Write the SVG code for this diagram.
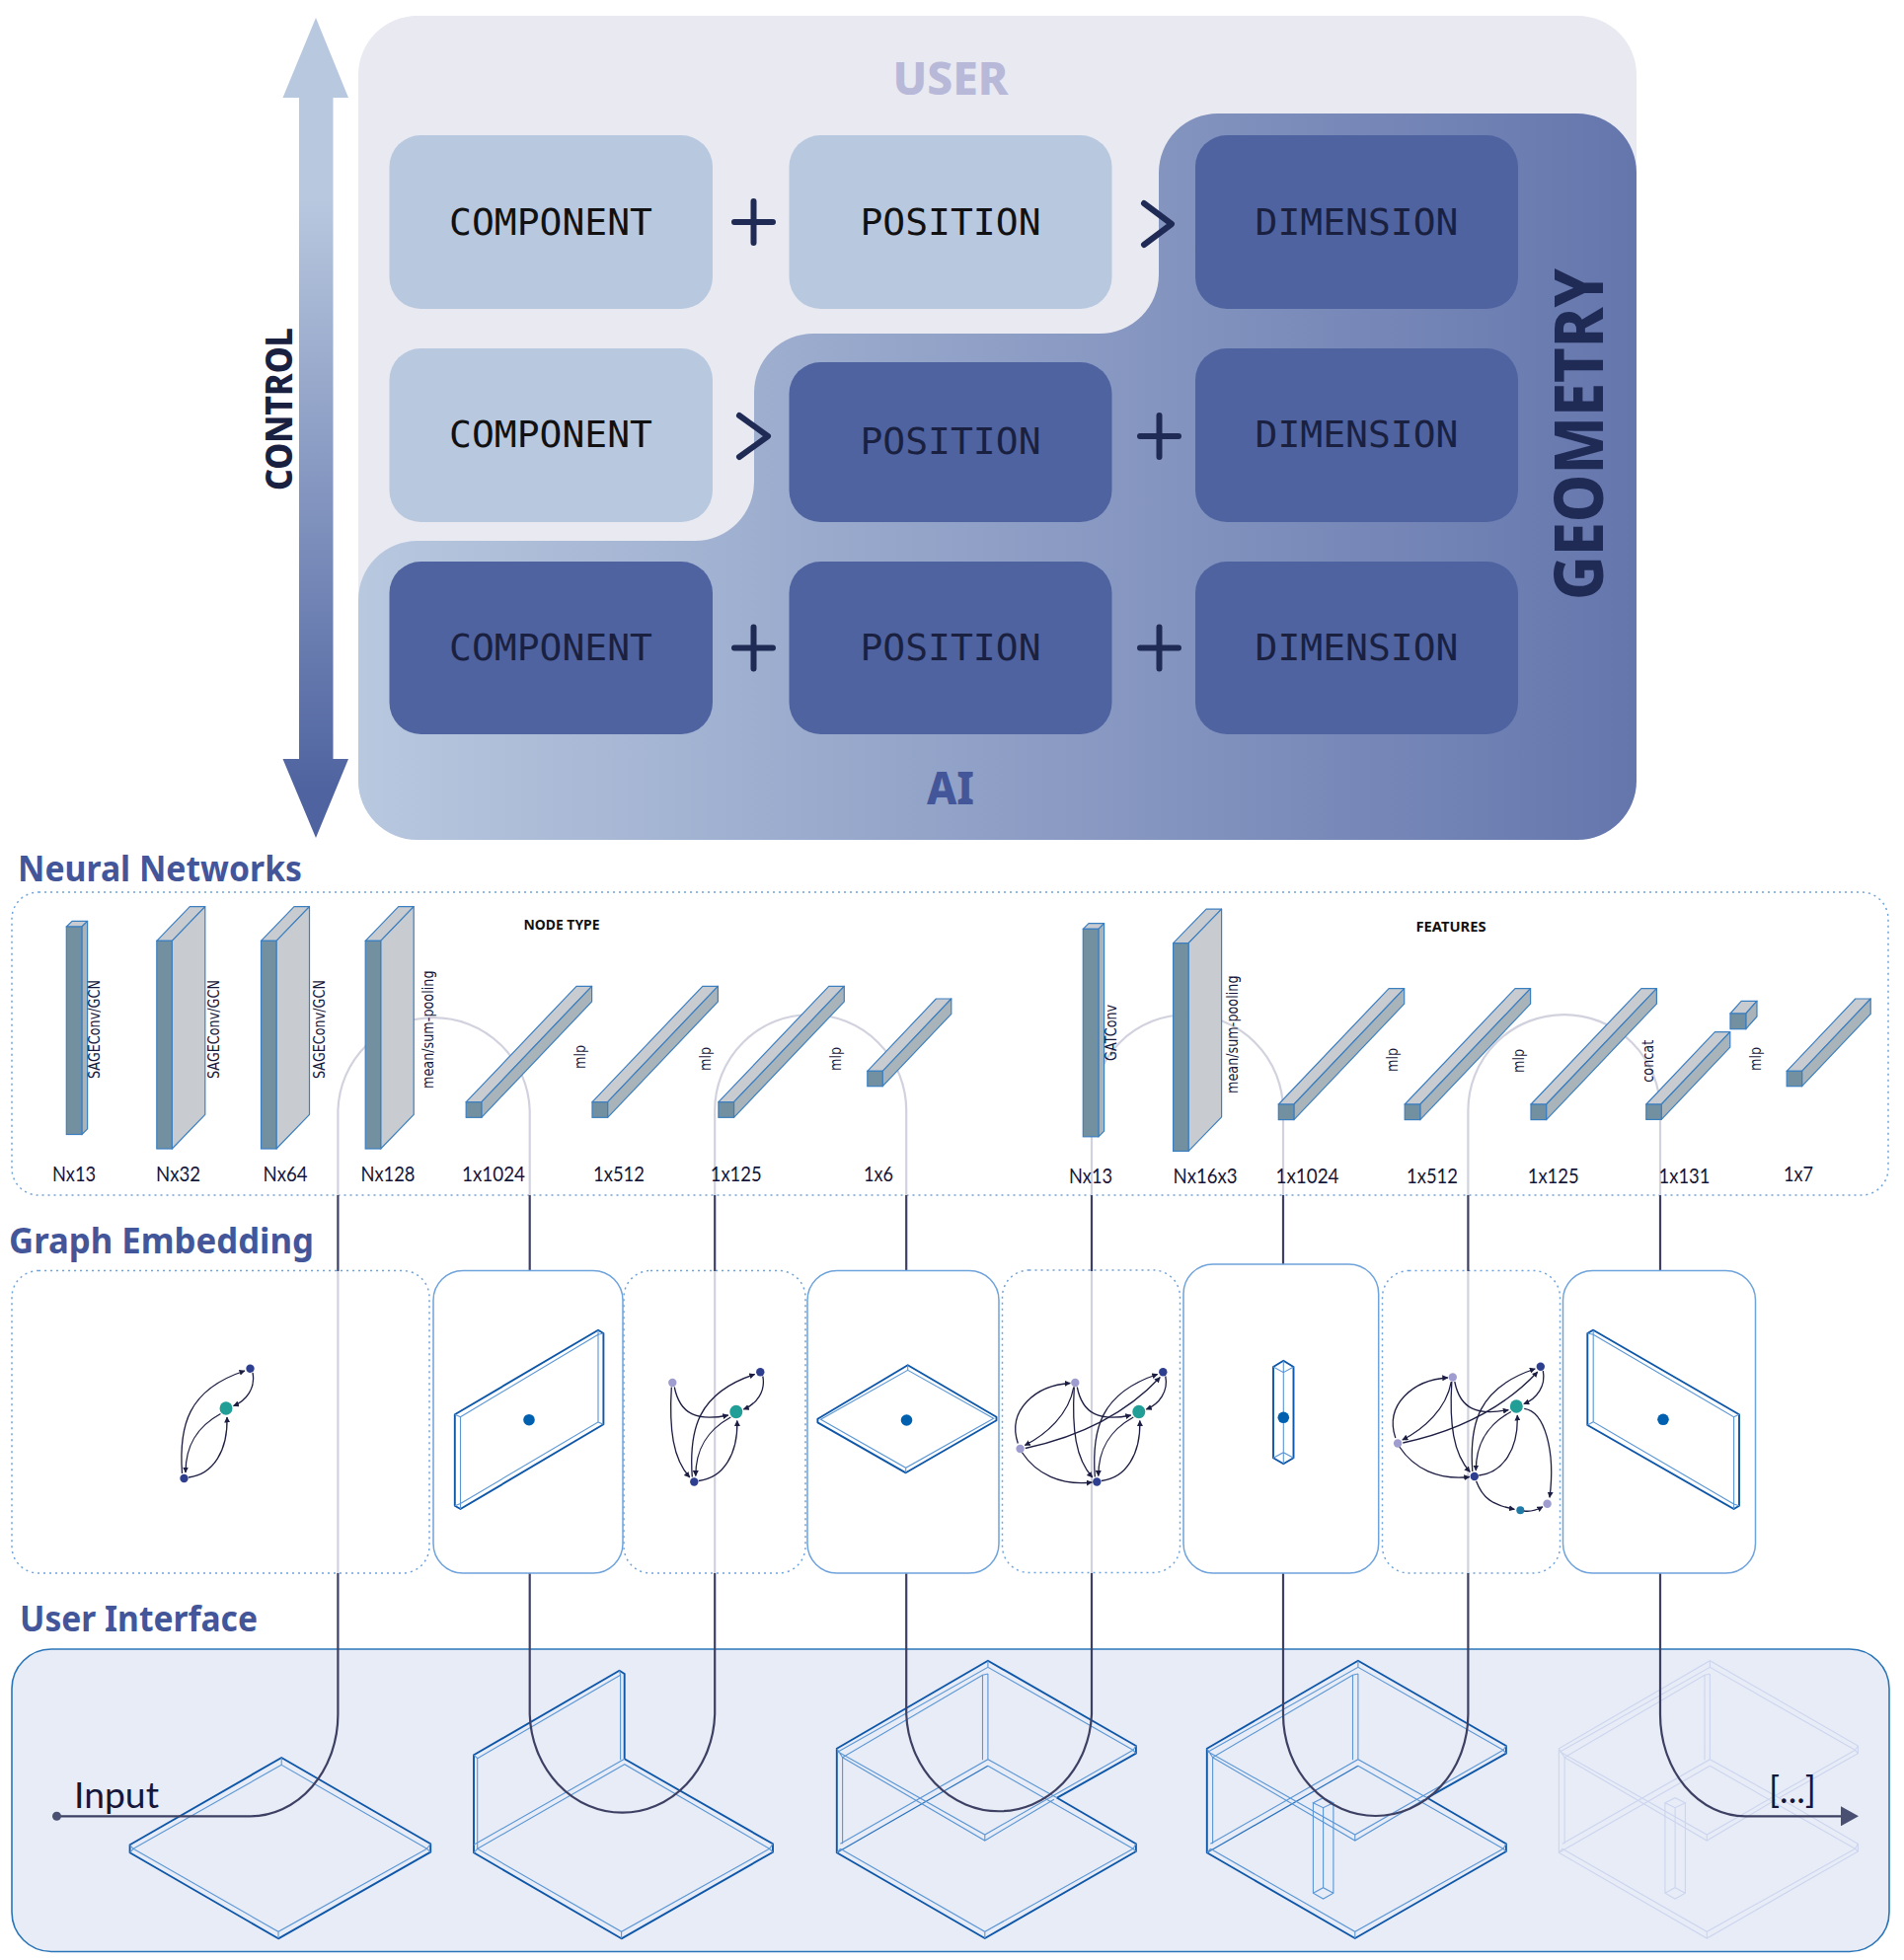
<svg xmlns="http://www.w3.org/2000/svg" xmlns:xlink="http://www.w3.org/1999/xlink" width="1929" height="1986" viewBox="0 0 1929 1986">
<style>
.lt{fill:#b8c8df}.dk{fill:#4f63a0}
.mono{font-family:"DejaVu Sans Mono","Liberation Mono",monospace;font-size:38px;text-anchor:middle}
.onl{fill:#111}.ond{fill:#1a2140}
.sym{fill:none;stroke:#1f2a55;stroke-width:6;stroke-linecap:round;stroke-linejoin:round}
.big{font-family:"Noto Sans","Lato",sans-serif;font-weight:800;text-anchor:middle}
.head{font-family:"Noto Sans","Lato",sans-serif;font-weight:700;font-size:36px;fill:#43569a}
.dim{font-family:"Lato","Noto Sans",sans-serif;font-size:22px;fill:#15173a;text-anchor:middle}
.rot{font-family:"DejaVu Sans",sans-serif;font-size:12.8px;fill:#15173a}
.ttl{font-family:"Noto Sans","Lato",sans-serif;font-weight:700;font-size:14px;fill:#111;text-anchor:middle}
.dot{fill:#fff;stroke:#6fa3dc;stroke-width:1.5;stroke-dasharray:2 4}
.dotn{fill:none;stroke:#6fa3dc;stroke-width:1.5;stroke-dasharray:2 4}
.sol{fill:#fff;stroke:#6fa3dc;stroke-width:1.5}
.f{fill:#72909f;stroke:#3c7fc0;stroke-width:1.2}
.t{fill:#c8ccd0;stroke:#3c7fc0;stroke-width:1.2;stroke-linejoin:round}
.s{fill:#a8b4ba;stroke:#3c7fc0;stroke-width:1.2;stroke-linejoin:round}
.cd{fill:none;stroke:#3d4062;stroke-width:2.2}
.cl{fill:none;stroke:#d2d2df;stroke-width:2.2}
.thick{fill:none;stroke:#0d56a8;stroke-width:1.9;stroke-linejoin:round}
.mid{fill:none;stroke:#2a72bd;stroke-width:1.3}
.thin{fill:none;stroke:#5a96d4;stroke-width:1.1}
.ghost{fill:none;stroke:#ccd5ee;stroke-width:1.1}
.e{fill:none;stroke:#1c1d42;stroke-width:1.3;marker-end:url(#ah)}
.na{fill:#2f3f8f}.nt{fill:#219e96}.np{fill:#9f9dcf}.nc{fill:#1f7ba5}.bd{fill:#0060b0}
.txt{font-family:"Lato","Noto Sans",sans-serif;font-size:36px;fill:#15173a}
</style>
<defs>
<linearGradient id="ctl" gradientUnits="userSpaceOnUse" x1="0" y1="200" x2="0" y2="800"><stop offset="0" stop-color="#b8c8df"/><stop offset="1" stop-color="#4f63a0"/></linearGradient>
<linearGradient id="aig" gradientUnits="userSpaceOnUse" x1="363" y1="0" x2="1658" y2="0"><stop offset="0" stop-color="#b8c8df"/><stop offset="1" stop-color="#6576ad"/></linearGradient>
<marker id="ah" viewBox="0 0 6 6" refX="5.5" refY="3" markerWidth="6" markerHeight="6" markerUnits="userSpaceOnUse" orient="auto"><path d="M0 0L6 3L0 6Z" fill="#1c1d42"/></marker>
<marker id="endarrow" viewBox="0 0 18 20" refX="0" refY="10" markerWidth="18" markerHeight="20" markerUnits="userSpaceOnUse" orient="auto"><path d="M0 0L18 10L0 20Z" fill="#4a5072"/></marker>
<g id="bar"><polygon class="t" points="0,0 15.6,0 127.4,-117.4 111.8,-117.4"/><polygon class="s" points="15.6,0 127.4,-117.4 127.4,-101.8 15.6,15.6"/><rect class="f" width="15.6" height="15.6"/></g>
<g id="bar2"><polygon class="t" points="0,0 15.4,0 85,-73.3 69.6,-73.3"/><polygon class="s" points="15.4,0 85,-73.3 85,-57.9 15.4,15.4"/><rect class="f" width="15.4" height="15.4"/></g>
<g id="slab"><polygon class="t" points="0,0 15.5,0 49,-34.6 33.5,-34.6"/><polygon class="t" points="15.5,0 49,-34.6 49,176.1 15.5,210.7"/><rect class="f" width="15.5" height="210.7"/></g>
<g id="thinb"><polygon class="t" points="0,0 15.6,0 21.3,-5.7 5.7,-5.7"/><polygon class="s" points="15.6,0 21.3,-5.7 21.3,204.8 15.6,210.5"/><rect class="f" width="15.6" height="210.5"/></g>
<g id="tri">
<path class="e" d="M184.5,1493C181,1445 190,1408 248,1389"/>
<path class="e" d="M256,1391C259,1406 250,1419 236.5,1424.5"/>
<path class="e" d="M223.5,1432.5C199,1446 188,1465 188,1492"/>
<path class="e" d="M191,1497C216,1494 231,1470 230,1436"/>
<ellipse class="na" cx="253.5" cy="1386.7" rx="4.2" ry="4.2"/><ellipse class="nt" cx="229" cy="1427" rx="6.5" ry="6.8"/><ellipse class="na" cx="186.5" cy="1498" rx="4.2" ry="4.2"/>
</g>
<g id="pe">
<path class="e" d="M166.5,1402C172,1430 190,1437 221,1430.5"/>
<path class="e" d="M163.5,1402C161,1445 165,1475 182,1493.5"/>
<ellipse class="np" cx="164.5" cy="1397.5" rx="4.2" ry="4.2"/>
</g>
<g id="qe">
<path class="e" d="M106.5,1459C95,1425 125,1400 159.5,1398"/>
<path class="e" d="M163,1402C158,1430 135,1450 113.5,1461"/>
<path class="e" d="M114,1464C170,1452 215,1430 250.5,1392"/>
<path class="e" d="M110.5,1468C125,1490 150,1502 181.5,1498.5"/>
<ellipse class="np" cx="108.8" cy="1464.5" rx="4.2" ry="4.2"/>
</g>
<path id="cubeO" d="M847.8,1877.3V1771.7L1000.9,1682.7L1150.9,1769V1776.7L1071,1821.7L1150.9,1868.3V1876L997.8,1964Z"/>
<path id="cubeM" d="M847.8,1877.3L1000.9,1789.3"/>
<path id="cubeI" d="M849,1775L1000.9,1689.3L1148,1773.3L997.8,1859ZM853.6,1780.7L997.8,1865L1067.9,1823.3M853.6,1780.7L995.5,1697.3L1000.9,1696M995.5,1697.3V1783.3M1000.9,1696V1782.7M853.6,1780.7V1868.3M997.8,1859V1865M851.3,1868.3L1000.9,1782.7L1071,1821.7M1000.9,1789.3L1148,1873.3L997.8,1957.3L851.3,1873.3M997.8,1957.3V1964M1148,1873.3L1150.9,1868.3M1148,1873.3L1150.9,1876M1148,1773.3L1150.9,1769M1148,1773.3L1150.9,1776.7M847.8,1771.7L853.6,1780.7M847.8,1877.3L851.3,1873.3M1000.9,1682.7V1689.3"/>
<path id="column" d="M1330.4,1826.7L1340.6,1821.7L1350.9,1826.7L1340.6,1831.7ZM1330.4,1826.7V1918.3L1340.6,1924L1350.9,1918.3V1826.7M1340.6,1831.7V1912.7M1330.4,1918.3L1340.6,1912.7L1350.9,1918.3"/>
</defs>

<g id="control-arrow">
<path d="M320,18L353,99H337.5V769H353L320,849L286.5,769H303V99H286.5Z" fill="url(#ctl)"/>
<text class="big" transform="translate(295.5,414.5) rotate(-90)" font-size="37" fill="#1a2140" textLength="165" lengthAdjust="spacingAndGlyphs">CONTROL</text>
</g>
<g id="matrix">
<rect x="363" y="16" width="1295" height="835" rx="60" fill="#e8e9f1"/>
<path d="M363,791V608A60,60 0 0 1 423,548H704A60,60 0 0 0 764,488V398A60,60 0 0 1 824,338H1114A60,60 0 0 0 1174,278V175A60,60 0 0 1 1234,115H1598A60,60 0 0 1 1658,175V791A60,60 0 0 1 1598,851H423A60,60 0 0 1 363,791Z" fill="url(#aig)"/>
<text class="big" x="963" y="96" font-size="46" fill="#b8b8d8" textLength="117" lengthAdjust="spacingAndGlyphs">USER</text>
<text class="big" x="963" y="815" font-size="46" fill="#43569a" textLength="48" lengthAdjust="spacingAndGlyphs">AI</text>
<text class="big" transform="translate(1624,440) rotate(-90)" font-size="68" fill="#1f2a55" textLength="336" lengthAdjust="spacingAndGlyphs">GEOMETRY</text>
</g>
<g id="r1c1"><rect class="lt" x="394.5" y="137" width="327.5" height="176" rx="32"/><text class="mono onl" x="558" y="237.5">COMPONENT</text></g>
<g id="r1c2"><rect class="lt" x="799.5" y="137" width="327" height="176" rx="32"/><text class="mono onl" x="963" y="237.5">POSITION</text></g>
<g id="r1c3"><rect class="dk" x="1211" y="137" width="327" height="176" rx="32"/><text class="mono ond" x="1374.5" y="237.5">DIMENSION</text></g>
<g id="r2c1"><rect class="lt" x="394.5" y="353" width="327.5" height="176" rx="32"/><text class="mono onl" x="558" y="453">COMPONENT</text></g>
<g id="r2c2"><rect class="dk" x="799.5" y="367" width="327" height="162" rx="32"/><text class="mono ond" x="963" y="460">POSITION</text></g>
<g id="r2c3"><rect class="dk" x="1211" y="353" width="327" height="176" rx="32"/><text class="mono ond" x="1374.5" y="453">DIMENSION</text></g>
<g id="r3c1"><rect class="dk" x="394.5" y="569" width="327.5" height="175" rx="32"/><text class="mono ond" x="558" y="669">COMPONENT</text></g>
<g id="r3c2"><rect class="dk" x="799.5" y="569" width="327" height="175" rx="32"/><text class="mono ond" x="963" y="669">POSITION</text></g>
<g id="r3c3"><rect class="dk" x="1211" y="569" width="327" height="175" rx="32"/><text class="mono ond" x="1374.5" y="669">DIMENSION</text></g>
<g id="operators">
<path class="sym" d="M744,225H783M763.5,204V246"/>
<path class="sym" d="M1159,206L1187,227L1159,248"/>
<path class="sym" d="M749,421L778,442L749,463"/>
<path class="sym" d="M1155,442H1194M1174.5,421V463"/>
<path class="sym" d="M744,656.5H783M763.5,635.5V677.5"/>
<path class="sym" d="M1155,656.5H1194M1174.5,635.5V677.5"/>
</g>

<text class="head" x="18" y="893" textLength="288" lengthAdjust="spacingAndGlyphs">Neural Networks</text>
<text class="head" x="9" y="1270" textLength="309" lengthAdjust="spacingAndGlyphs">Graph Embedding</text>
<text class="head" x="20" y="1653" textLength="241" lengthAdjust="spacingAndGlyphs">User Interface</text>

<g id="ui-panel"><rect x="12" y="1671" width="1902" height="306.5" rx="40" fill="#e8ecf7" stroke="#2a75b8" stroke-width="1.6"/></g>
<g id="nn-panel"><rect class="dotn" x="12" y="904" width="1901" height="307" rx="27"/></g>
<g id="ge1"><rect class="dot" x="12" y="1287.5" width="423" height="306.5" rx="27"/></g>
<g id="ge3"><rect class="dot" x="632" y="1287.5" width="184" height="306.5" rx="27"/></g>
<g id="ge5"><rect class="dot" x="1015.5" y="1287" width="180" height="306.5" rx="27"/></g>
<g id="ge7"><rect class="dot" x="1400.5" y="1287.5" width="180" height="306.5" rx="27"/></g>

<g id="ui-shapes">
<g id="ui1"><path class="thick" d="M285.2,1781L131.6,1869.3V1877.3L282,1964.3L436.2,1876.7V1868.3Z"/><path class="thin" d="M285.2,1788.3L135,1873.3L282,1957.3L432.6,1873.3ZM285.2,1781V1788.3M131.6,1869.3L135,1873.3M131.6,1877.3L135,1873.3M282,1957.3V1964.3M432.6,1873.3L436.2,1868.3M432.6,1873.3L436.2,1876.7"/></g>
<g id="ui2"><path class="thick" d="M632.7,1782.3L783,1868.3V1876.7L629.6,1964.3L480,1877.3V1778.3L627.5,1692.7L632.7,1696V1782.3"/><path class="thin" d="M632.7,1787.7L483.7,1873.3L629.6,1957.3L779.6,1873.3ZM632.7,1782.3L480,1869.3M483.7,1781.7L628.6,1697.3V1783.3M483.7,1781.7V1873.3M480,1778.3L483.7,1781.7M627.5,1692.7L628.6,1697.3M629.6,1957.3V1964.3M779.6,1873.3L783,1868.3M779.6,1873.3L783,1876.7M480,1877.3L483.7,1873.3"/></g>
<g id="ui3"><use xlink:href="#cubeO" href="#cubeO" class="thick"/><use xlink:href="#cubeM" href="#cubeM" class="mid"/><use xlink:href="#cubeI" href="#cubeI" class="thin"/></g>
<g id="ui4" transform="translate(375,0)"><use xlink:href="#cubeO" href="#cubeO" class="thick"/><use xlink:href="#cubeM" href="#cubeM" class="mid"/><use xlink:href="#cubeI" href="#cubeI" class="thin"/></g>
<use xlink:href="#column" href="#column" class="thin"/>
<g id="ui5" transform="translate(731.5,0)"><use xlink:href="#cubeO" href="#cubeO" class="ghost"/><use xlink:href="#cubeM" href="#cubeM" class="ghost"/><use xlink:href="#cubeI" href="#cubeI" class="ghost"/></g>
<use xlink:href="#column" href="#column" class="ghost" transform="translate(356.5,0)"/>
</g>

<g id="connectors">
<path class="cl" d="M342.4,1594V1288M342.4,1211V1125A97.2,97 0 0 1 536.7,1125V1211M724.2,1594V1288M724.2,1211V1125A97,97 0 0 1 918.2,1125V1211M1106,1594V1288M1106,1211V1125A97,97 0 0 1 1300,1125V1211M1487.4,1594V1288M1487.4,1211V1125A97.3,97 0 0 1 1682,1125V1211"/>
<path class="cd" d="M57,1840.3H253A89,103 0 0 0 342.4,1737V1594M342.4,1288V1211M536.7,1211V1288M536.7,1594V1737A93.8,103 0 0 0 724.2,1737V1594M724.2,1288V1211M918.2,1211V1288M918.2,1594V1737A94,103 0 0 0 1106,1737V1594M1106,1288V1211M1300,1211V1282M1300,1594V1737A93.7,103 0 0 0 1487.4,1737V1594M1487.4,1288V1211M1682,1211V1288M1682,1594V1737A86,103 0 0 0 1768,1840.3H1865" marker-end="url(#endarrow)"/>
<circle cx="57.5" cy="1840.3" r="4.5" fill="#4a5072"/>
</g>

<g id="ge2"><rect class="sol" x="439" y="1287.5" width="192" height="306.5" rx="30"/>
<path class="thick" d="M460.8,1433.3L606,1347.7L611.4,1351V1443.3L466.5,1529L460.8,1525.7Z"/>
<path class="thin" d="M466.5,1435.7L606,1352.3V1441L466.5,1523.5ZM460.8,1433.3L466.5,1435.7M466.5,1435.7V1529M460.8,1525.7L466.5,1523.5M606,1347.7V1352.3M606,1352.3L611.4,1351M606,1441L611.4,1443.3"/>
<circle class="bd" cx="536" cy="1438.7" r="5.8"/></g>
<g id="ge4"><rect class="sol" x="818" y="1287.5" width="194" height="306.5" rx="30"/>
<path class="thick" d="M828.4,1437.7L919.7,1383.3L1009.5,1435.7V1439.3L917.7,1492.3L828.4,1441.3Z"/>
<path class="thin" d="M831.5,1438.3L919.7,1388.3L1006.7,1437.3L917.7,1487.3ZM919.7,1383.3V1388.3M917.7,1487.3V1492.3"/>
<circle class="bd" cx="918.5" cy="1439" r="5.8"/></g>
<g id="ge6"><rect class="sol" x="1199" y="1281" width="197.7" height="313" rx="30"/>
<path class="thick" d="M1300.3,1378.7L1310.5,1385V1477.3L1300.3,1483.3L1290,1477.3V1385Z"/>
<path class="thin" d="M1290,1385L1300.3,1390.7L1310.5,1385M1300.3,1390.7V1471.7M1290,1477.3L1300.3,1471.7L1310.5,1477.3M1300.3,1378.7V1390.7M1300.3,1471.7V1483.3"/>
<circle class="bd" cx="1300.3" cy="1436.3" r="5.8"/></g>
<g id="ge8"><rect class="sol" x="1583.5" y="1287.5" width="195" height="306.5" rx="30"/>
<path class="thick" d="M1608.3,1351L1614.2,1347.7L1762,1433.3V1525.7L1756.6,1529L1608.3,1444Z"/>
<path class="thin" d="M1614.2,1352.3L1756.6,1435.7V1524L1614.2,1440.7ZM1608.3,1351L1614.2,1352.3M1614.2,1347.7V1440.7M1608.3,1444L1614.2,1440.7M1756.6,1435.7L1762,1433.3M1756.6,1435.7V1529M1756.6,1524L1762,1525.7"/>
<circle class="bd" cx="1685" cy="1438.3" r="5.8"/></g>

<g id="graph1"><use xlink:href="#tri" href="#tri"/></g>
<g id="graph2" transform="translate(516.8,3.5)"><use xlink:href="#pe" href="#pe"/><use xlink:href="#tri" href="#tri"/></g>
<g id="graph3" transform="translate(924.8,3.5)"><use xlink:href="#pe" href="#pe"/><use xlink:href="#qe" href="#qe"/><use xlink:href="#tri" href="#tri"/></g>
<g id="graph4" transform="translate(1307.3,-2)"><use xlink:href="#pe" href="#pe"/><use xlink:href="#qe" href="#qe"/><use xlink:href="#tri" href="#tri"/></g>
<g id="graph4-extra">
<path class="e" d="M1544.2,1427.3C1565,1430 1576,1470 1570,1517.3"/>
<path class="e" d="M1495.6,1500.7C1502,1518 1512,1525 1534.4,1529.3"/>
<path class="e" d="M1544,1531C1551,1532 1557,1530 1563,1526.7"/>
<ellipse class="nc" cx="1540.3" cy="1530.3" rx="4" ry="4"/><ellipse class="np" cx="1567.6" cy="1523.7" rx="4.2" ry="4.2"/>
</g>

<g id="nn-blocks">
<use xlink:href="#thinb" href="#thinb" transform="translate(67.3,939)"/>
<use xlink:href="#slab" href="#slab" transform="translate(158.8,953.3)"/>
<use xlink:href="#slab" href="#slab" transform="translate(264.5,953.3)"/>
<use xlink:href="#slab" href="#slab" transform="translate(370.2,953.3)"/>
<use xlink:href="#bar" href="#bar" transform="translate(472.2,1116.7)"/>
<use xlink:href="#bar" href="#bar" transform="translate(600,1116.7)"/>
<use xlink:href="#bar" href="#bar" transform="translate(727.9,1116.7)"/>
<use xlink:href="#bar2" href="#bar2" transform="translate(878.8,1085.3)"/>
<use xlink:href="#thinb" href="#thinb" transform="translate(1097.3,941.3)"/>
<use xlink:href="#slab" href="#slab" transform="translate(1188.6,955.7)"/>
<use xlink:href="#bar" href="#bar" transform="translate(1295.3,1119)"/>
<use xlink:href="#bar" href="#bar" transform="translate(1423.2,1119)"/>
<use xlink:href="#bar" href="#bar" transform="translate(1551,1119)"/>
<use xlink:href="#bar2" href="#bar2" transform="translate(1667.8,1119)"/>
<g transform="translate(1753,1027)"><polygon class="t" points="0,0 15.8,0 27,-12.7 11.2,-12.7"/><polygon class="s" points="15.8,0 27,-12.7 27,3 15.8,15.7"/><rect class="f" width="15.8" height="15.7"/></g>
<use xlink:href="#bar2" href="#bar2" transform="translate(1810.2,1085.3)"/>
</g>

<g id="nn-labels">
<text class="ttl" x="569" y="941.7" textLength="77" lengthAdjust="spacingAndGlyphs">NODE TYPE</text>
<text class="ttl" x="1470" y="944" textLength="71" lengthAdjust="spacingAndGlyphs">FEATURES</text>
<text class="dim" x="75" y="1197" textLength="44" lengthAdjust="spacingAndGlyphs">Nx13</text>
<text class="dim" x="180.6" y="1197" textLength="45" lengthAdjust="spacingAndGlyphs">Nx32</text>
<text class="dim" x="289" y="1197" textLength="45" lengthAdjust="spacingAndGlyphs">Nx64</text>
<text class="dim" x="393" y="1197" textLength="55" lengthAdjust="spacingAndGlyphs">Nx128</text>
<text class="dim" x="500" y="1197" textLength="64" lengthAdjust="spacingAndGlyphs">1x1024</text>
<text class="dim" x="627" y="1197" textLength="52" lengthAdjust="spacingAndGlyphs">1x512</text>
<text class="dim" x="745.7" y="1197" textLength="52" lengthAdjust="spacingAndGlyphs">1x125</text>
<text class="dim" x="890" y="1197" textLength="30" lengthAdjust="spacingAndGlyphs">1x6</text>
<text class="dim" x="1105" y="1199.3" textLength="44" lengthAdjust="spacingAndGlyphs">Nx13</text>
<text class="dim" x="1221" y="1199.3" textLength="65" lengthAdjust="spacingAndGlyphs">Nx16x3</text>
<text class="dim" x="1324.5" y="1199.3" textLength="64" lengthAdjust="spacingAndGlyphs">1x1024</text>
<text class="dim" x="1451" y="1199.3" textLength="52" lengthAdjust="spacingAndGlyphs">1x512</text>
<text class="dim" x="1573.7" y="1199.3" textLength="52" lengthAdjust="spacingAndGlyphs">1x125</text>
<text class="dim" x="1706.5" y="1199.3" textLength="52" lengthAdjust="spacingAndGlyphs">1x131</text>
<text class="dim" x="1822" y="1197" textLength="30" lengthAdjust="spacingAndGlyphs">1x7</text>
<text class="rot" transform="translate(101,1093) rotate(-90) scale(1,1.2)">SAGEConv/GCN</text>
<text class="rot" transform="translate(222.4,1093) rotate(-90) scale(1,1.2)">SAGEConv/GCN</text>
<text class="rot" transform="translate(328.6,1093) rotate(-90) scale(1,1.2)">SAGEConv/GCN</text>
<text class="rot" transform="translate(438.8,1103) rotate(-90) scale(1,1.2)">mean/sum-pooling</text>
<text class="rot" transform="translate(593,1083) rotate(-90) scale(1,1.2)">mlp</text>
<text class="rot" transform="translate(720,1085) rotate(-90) scale(1,1.2)">mlp</text>
<text class="rot" transform="translate(852,1085) rotate(-90) scale(1,1.2)">mlp</text>
<text class="rot" transform="translate(1131,1075) rotate(-90) scale(1,1.2)">GATConv</text>
<text class="rot" transform="translate(1254.4,1108) rotate(-90) scale(1,1.2)">mean/sum-pooling</text>
<text class="rot" transform="translate(1415.8,1086) rotate(-90) scale(1,1.2)">mlp</text>
<text class="rot" transform="translate(1543.7,1087) rotate(-90) scale(1,1.2)">mlp</text>
<text class="rot" transform="translate(1675,1096.7) rotate(-90) scale(1,1.2)">concat</text>
<text class="rot" transform="translate(1783.7,1085) rotate(-90) scale(1,1.2)">mlp</text>
</g>
<g id="ui-labels">
<text class="txt" x="75" y="1832.3" textLength="86" lengthAdjust="spacingAndGlyphs">Input</text>
<text class="txt" x="1792" y="1826.7" textLength="48" lengthAdjust="spacingAndGlyphs">[...]</text>
</g>
</svg>
